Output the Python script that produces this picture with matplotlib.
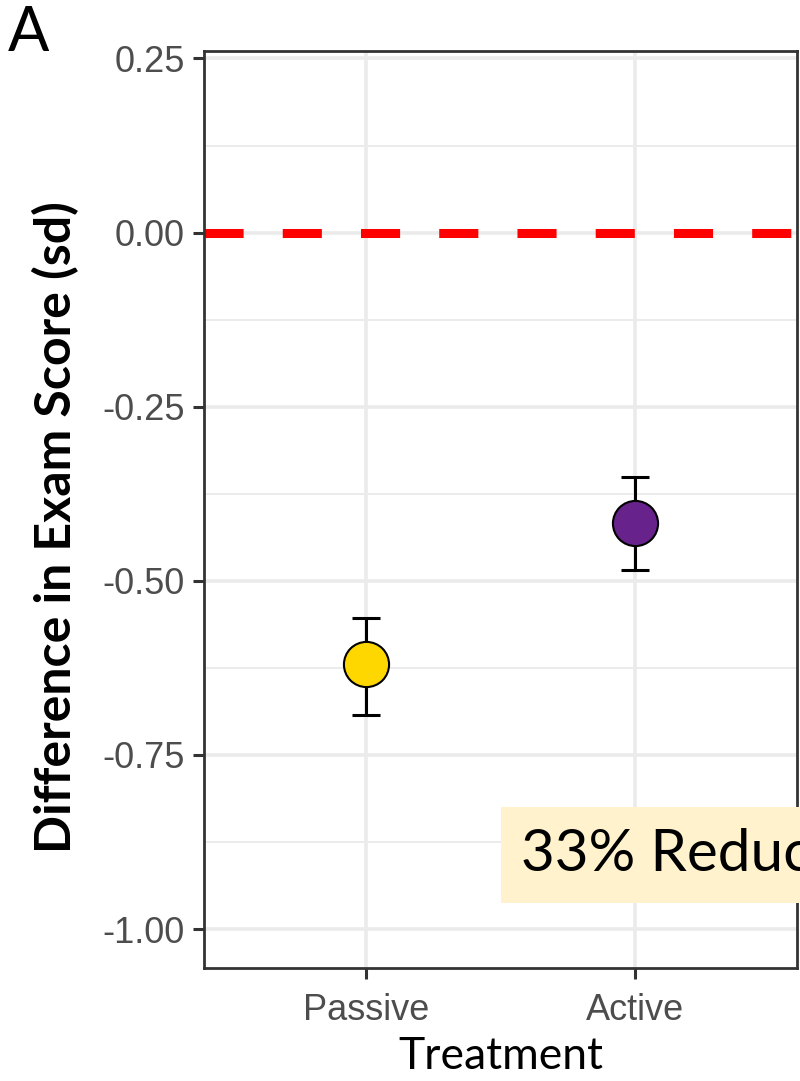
import matplotlib.pyplot as plt
from matplotlib.patches import Rectangle
import numpy as np

treatments = ["Passive", "Active"]
means = [-0.620, -0.417]
lower = [-0.693, -0.485]
upper = [-0.554, -0.351]
colors = ["#FFD700", "#68228B"]
yticks = [0.25, 0.0, -0.25, -0.50, -0.75, -1.00]
ytick_labels = ["0.25", "0.00", "-0.25", "-0.50", "-0.75", "-1.00"]
note = "33% Reduction"

fig = plt.figure(figsize=(8, 10.81), dpi=100)
ax = fig.add_axes([0.255, 0.1045, 0.741, 0.8485])

x = np.arange(1, len(treatments) + 1)
ax.set_xlim(0.4, 2.6)
ax.set_ylim(-1.056, 0.261)

# panel grid (theme_bw style)
ax.set_yticks(yticks)
ax.set_yticks([0.125, -0.125, -0.375, -0.625, -0.875], minor=True)
ax.grid(True, which="major", color="#EBEBEB", lw=2.6, zorder=0)
ax.grid(True, which="minor", axis="y", color="#EBEBEB", lw=1.4, zorder=0)
ax.set_axisbelow(True)

# zero reference line
ax.axhline(0, color="#FF0000", lw=6.5, dashes=(39 / 9, 39 / 9),
           dash_capstyle="butt", zorder=2)

for xi, m, lo, hi, c in zip(x, means, lower, upper, colors):
    ax.errorbar([xi], [m], yerr=[[m - lo], [hi - m]], fmt="none",
                ecolor="black", elinewidth=2.2, capsize=10, capthick=2.2,
                zorder=3)
    ax.plot([xi], [m], "o", ms=32.5, mfc=c, mec="black", mew=1.5, zorder=4)

ax.set_xticks(x)
ax.set_xticklabels(treatments)
ax.set_yticklabels(ytick_labels)
ax.tick_params(axis="both", which="major", length=8, width=2.2,
               color="#333333", labelsize=26, labelcolor="#4D4D4D", pad=6)
ax.tick_params(axis="x", which="major", pad=10)
ax.tick_params(axis="y", which="minor", length=0)
for lab in ax.get_xticklabels() + ax.get_yticklabels():
    lab.set_family("Liberation Sans")

for sp in ax.spines.values():
    sp.set_color("#333333")
    sp.set_linewidth(2)

ax.set_xlabel("Treatment", family="Lato", fontsize=32, labelpad=6)
ax.set_ylabel("Difference in Exam Score (sd)", family="Lato",
              fontweight="bold", fontsize=36)
ax.yaxis.set_label_coords(-0.211, 0.481)

# highlighted annotation box, runs past the panel edge
ax.add_patch(Rectangle((1.504, -0.962), 1.6, 0.137, facecolor="#FFF2CC",
                       edgecolor="none", clip_on=False, zorder=5))
ax.text(1.578, -0.893, note, family="Lato", fontsize=42, va="center",
        ha="left", color="black", clip_on=False, zorder=6)

fig.text(0.01, 0.995, "A", family="Lato", fontsize=44, va="top", ha="left")

fig.savefig("out.png", dpi=100)
